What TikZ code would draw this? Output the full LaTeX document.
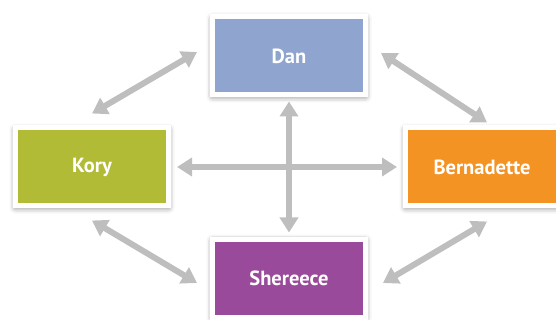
\documentclass[tikz,border=0pt]{standalone}
\usepackage{fontspec}
\setsansfont{PT Sans}
\usetikzlibrary{arrows.meta}
\usetikzlibrary{shadows.blur}

\definecolor{danblue}{HTML}{8FA4CF}
\definecolor{korygreen}{HTML}{B2BB36}
\definecolor{bernorange}{HTML}{F39324}
\definecolor{sherpurple}{HTML}{9A4A9B}
\definecolor{linkgray}{HTML}{BEBEBE}

\begin{document}
\begin{tikzpicture}[x=1pt,y=-1pt]
		\tikzset{
			person/.style={draw=white,line width=5pt,minimum width=153pt,minimum height=78pt,
				text=white,font=\sffamily\bfseries\fontsize{20.5}{24}\selectfont,
				blur shadow={shadow xshift=0pt,shadow yshift=-1.5pt,shadow blur radius=6pt,shadow opacity=55}},
			link/.style={draw=linkgray,line width=6pt,
				{Triangle[width=18pt,length=15pt]}-{Triangle[width=18pt,length=15pt]}}
		}
		\useasboundingbox (0,0) rectangle (556,320);
		\clip (0,0) rectangle (556,320);

		\node[person,fill=danblue] (dan) at (289,56) {Dan};
		\node[person,fill=korygreen] (kory) at (92,167) {Kory};
		\node[person,fill=bernorange] (bern) at (482,167) {Bernadette};
		\node[person,fill=sherpurple] (sher) at (289,278) {Shereece};

		% cross in the middle
		\draw[link,shorten <=6pt,shorten >=6pt] (kory) -- (bern);
		\draw[link,shorten <=4pt,shorten >=4pt] (dan) -- (sher);

		% diagonals
		\draw[link] ([yshift=12pt]kory.north) -- ([xshift=-13pt,yshift=4pt]dan.west);
		\draw[link] ([xshift=13pt,yshift=3pt]dan.east) -- ([xshift=5pt,yshift=3pt]bern.north);
		\draw[link] ([xshift=5pt,yshift=-13pt]bern.south) -- ([xshift=15pt,yshift=-5pt]sher.east);
		\draw[link] ([xshift=-13pt,yshift=-5pt]sher.west) -- ([yshift=-12pt]kory.south);
	\end{tikzpicture}
\end{document}
